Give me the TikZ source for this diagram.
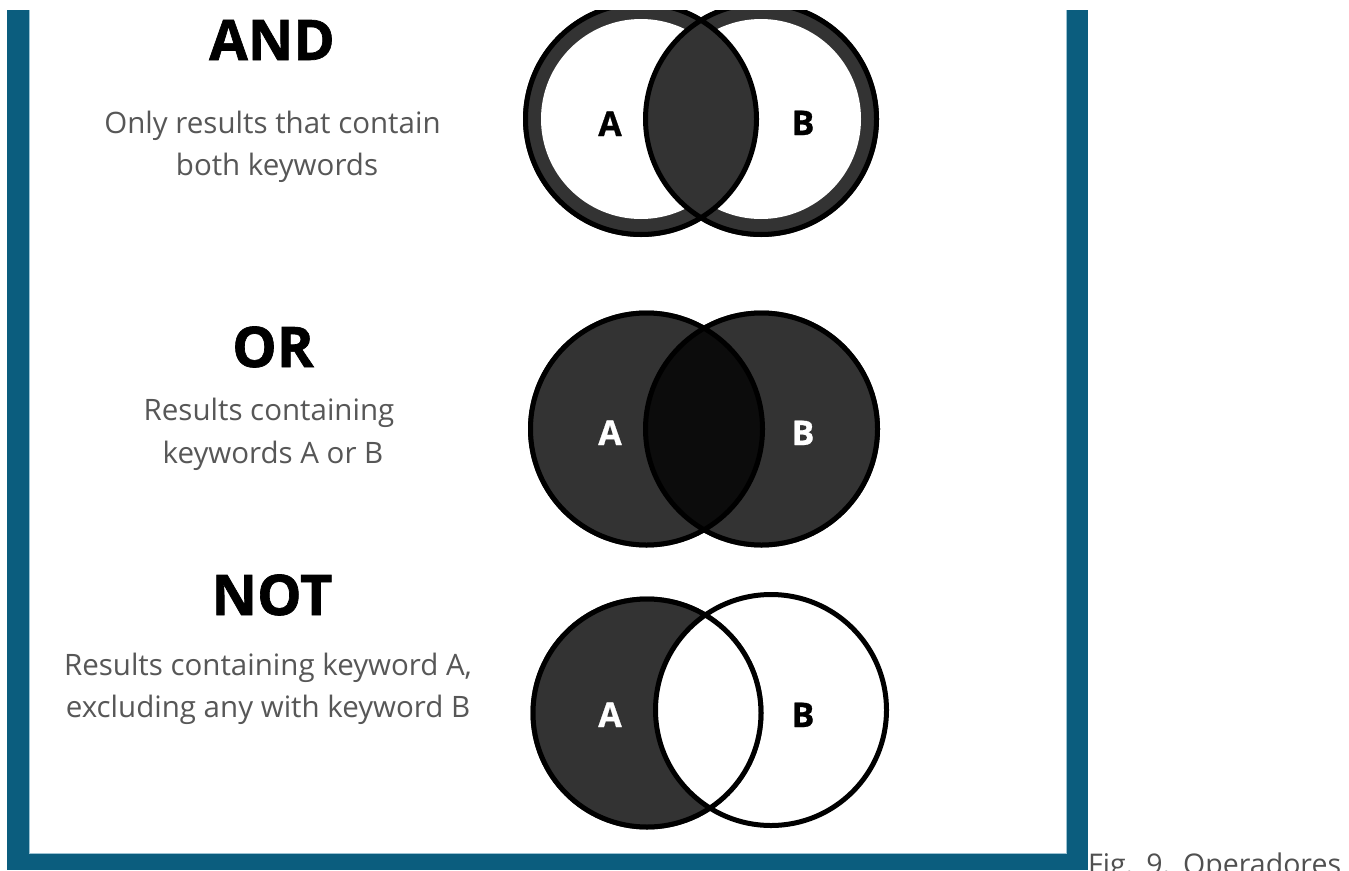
\documentclass[tikz,border=0pt]{standalone}
\usepackage{fontspec}
\setmainfont{Open Sans}
\newfontfamily\heavy[FakeBold=1.2]{Open Sans}
\newfontfamily\semiheavy[FakeBold=0.8]{Open Sans}
\definecolor{frameblue}{HTML}{0B5D7E}
\definecolor{lightedge}{HTML}{9CC3D3}
\definecolor{darkfill}{HTML}{333333}
\definecolor{lensfill}{HTML}{0C0C0C}
\definecolor{desctext}{HTML}{575757}
\definecolor{capgray}{HTML}{505050}
\begin{document}
\begin{tikzpicture}[x=1pt,y=-1pt,
  title/.style={font=\heavy\bfseries\fontsize{56}{56}\selectfont, anchor=base, inner sep=0pt},
  desc/.style={font=\fontsize{29.5}{30}\selectfont, text=desctext, anchor=base, inner sep=0pt},
  lab/.style={font=\semiheavy\bfseries\fontsize{34}{34}\selectfont, anchor=base, inner sep=0pt},
  ring/.style={draw=black, line width=5pt}]
\useasboundingbox (0,0) rectangle (1349,870);
\fill[white] (0,0) rectangle (1349,870);
\begin{scope}
\clip (0,10) rectangle (1349,870);
% frame
\fill[frameblue] (7,10) rectangle (29,870);
\fill[frameblue] (1067,10) rectangle (1088,870);
\fill[frameblue] (7,854) rectangle (1088,870);
\draw[lightedge, line width=1.4pt] (29.7,10) -- (29.7,853.3) -- (1066.3,853.3) -- (1066.3,10);

% AND
\fill[darkfill] (641,119) circle[radius=118] (761,119) circle[radius=118];
\fill[white] (641,119) circle[radius=100] (761,119) circle[radius=100];
\begin{scope}
\clip (641,119) circle[radius=115.5];
\fill[darkfill] (761,119) circle[radius=115.5];
\end{scope}
\draw[ring] (641,119) circle[radius=115.5] (761,119) circle[radius=115.5];

% OR
\fill[darkfill] (646.5,429) circle[radius=118.5] (761.5,429) circle[radius=118.5];
\begin{scope}
\clip (646.5,429) circle[radius=116];
\fill[lensfill] (761.5,429) circle[radius=116];
\end{scope}
\draw[ring] (646.5,429) circle[radius=116] (761.5,429) circle[radius=116];

% NOT
\fill[darkfill] (647,713) circle[radius=116.5];
\begin{scope}
\clip (647,713) circle[radius=114];
\fill[white] (771,710) circle[radius=115.5];
\end{scope}
\draw[ring] (647,713) circle[radius=114] (771,710) circle[radius=115.5];
\end{scope}

% labels in circles
\node[lab, text=black] (andA) at (610,136) {A};
\node[lab, text=black] (andB) at (803,135) {B};
\node[lab, text=white] (orA) at (610,445) {A};
\node[lab, text=white] (orB) at (803,445) {B};
\node[lab, text=white] (notA) at (610,727) {A};
\node[lab, text=black] (notB) at (803,727) {B};

% titles
\node[title] (andT) at (272,60) {AND};
\node[title] (orT) at (273,367) {OR};
\node[title] (notT) at (272,615) {NOT};

% descriptions
\node[desc] (and1) at (272.5,133) {Only results that contain};
\node[desc] (and2) at (277,175) {both keywords};
\node[desc] (or1) at (269,420) {Results containing};
\node[desc] (or2) at (273,463) {keywords A or B};
\node[desc] (not1) at (268,675) {Results containing keyword A,};
\node[desc] (not2) at (268,717) {excluding any with keyword B};

% caption (cut by the lower edge, as in the reference)
\node[anchor=base west, inner sep=0pt, text=capgray, font=\fontsize{28.5}{30}\selectfont] (cap) at (1088,874.5) {\frenchspacing\spaceskip=13pt Fig. 9. Operadores};
\end{tikzpicture}
\end{document}
